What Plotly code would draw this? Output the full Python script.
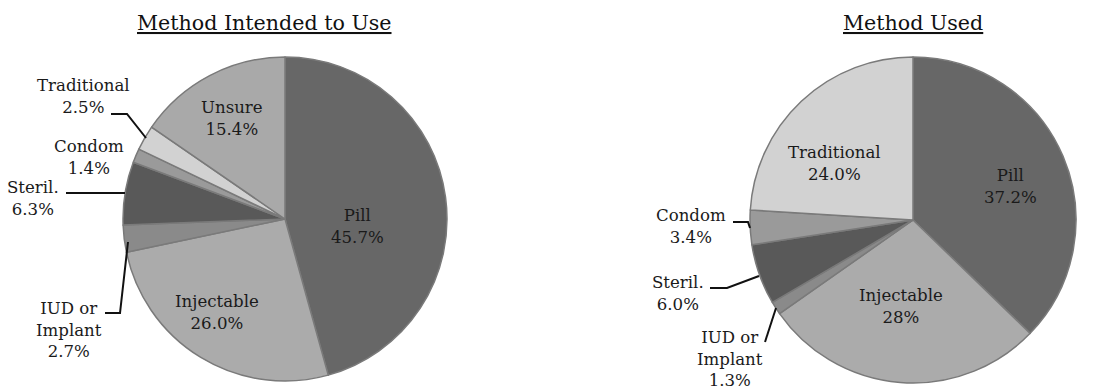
import plotly.graph_objects as go

# ---- data ----
intended_labels = ["Pill", "Injectable", "IUD or Implant", "Steril.", "Condom", "Traditional", "Unsure"]
intended_values = [45.7, 26.0, 2.7, 6.3, 1.4, 2.5, 15.4]
intended_decimals = [1, 1, 1, 1, 1, 1, 1]

used_labels = ["Pill", "Injectable", "IUD or Implant", "Steril.", "Condom", "Traditional"]
used_values = [37.2, 28, 1.3, 6.0, 3.4, 24.0]
used_decimals = [1, 0, 1, 1, 1, 1]

titles = ["Method Intended to Use", "Method Used"]

# ---- styling ----
W, H = 1094, 389
FONT = "DejaVu Serif"
TEXT = "#1a1a1a"
slice_colors = {
    "Pill": "#676767",
    "Injectable": "#ababab",
    "IUD or Implant": "#8a8a8a",
    "Steril.": "#595959",
    "Condom": "#9a9a9a",
    "Traditional": "#d2d2d2",
    "Unsure": "#a9a9a9",
}


def px(x):
    return x / W


def py(y):
    return 1 - y / H


def label_text(name, value, dp):
    name = name.replace("IUD or ", "IUD or<br>")
    return f"{name}<br>{value:.{dp}f}%"


def pie(labels, values, cx, cy, r):
    return go.Pie(
        labels=labels,
        values=values,
        sort=False,
        direction="clockwise",
        rotation=0,
        textinfo="none",
        hoverinfo="label+percent",
        marker=dict(colors=[slice_colors[l] for l in labels],
                    line=dict(color="#7a7a7a", width=1.5)),
        domain=dict(x=[px(cx - r), px(cx + r)], y=[py(cy + r), py(cy - r)]),
        showlegend=False,
    )


fig = go.Figure()
fig.add_trace(pie(intended_labels, intended_values, 285, 219, 162))
fig.add_trace(pie(used_labels, used_values, 913, 220, 163))

# label anchor points (pixel centres of each text block)
intended_pos = {
    "Pill": (357, 226),
    "Injectable": (217, 312),
    "IUD or Implant": (69, 330),
    "Steril.": (33, 199),
    "Condom": (89, 157),
    "Traditional": (83, 96),
    "Unsure": (232, 118),
}
used_pos = {
    "Pill": (1010, 186),
    "Injectable": (901, 306),
    "IUD or Implant": (730, 359),
    "Steril.": (678, 293),
    "Condom": (691, 226),
    "Traditional": (834, 163),
}

annotations = []
for labels, values, decs, pos in [
    (intended_labels, intended_values, intended_decimals, intended_pos),
    (used_labels, used_values, used_decimals, used_pos),
]:
    for lab, val, dp in zip(labels, values, decs):
        x, y = pos[lab]
        annotations.append(dict(
            x=px(x), y=py(y), xref="paper", yref="paper",
            text=label_text(lab, val, dp), showarrow=False,
            xanchor="center", yanchor="middle", align="center",
            font=dict(family=FONT, size=16.6, color=TEXT),
        ))

for title, x in zip(titles, [264, 913]):
    annotations.append(dict(
        x=px(x), y=py(23), xref="paper", yref="paper",
        text=f"<u>{title}</u>", showarrow=False,
        xanchor="center", yanchor="middle",
        font=dict(family=FONT, size=20.6, color="#111111"),
    ))

# leader lines (pixel polylines)
leaders = [
    [(111, 114), (127, 114), (146, 138)],
    [(66, 193), (125, 193)],
    [(105, 313), (120, 313), (128, 242)],
    [(733, 222), (748, 222), (750, 228)],
    [(710, 288), (727, 288), (759, 276)],
    [(765, 342), (776, 308)],
]
shapes = []
for pts in leaders:
    path = "M " + " L ".join(f"{px(x):.5f},{py(y):.5f}" for x, y in pts)
    shapes.append(dict(type="path", path=path, xref="paper", yref="paper",
                       line=dict(color="#111111", width=2)))

fig.update_layout(
    width=W, height=H,
    margin=dict(l=0, r=0, t=0, b=0),
    paper_bgcolor="white", plot_bgcolor="white",
    annotations=annotations,
    shapes=shapes,
    font=dict(family=FONT, color=TEXT),
)

fig.write_html("out.html")
